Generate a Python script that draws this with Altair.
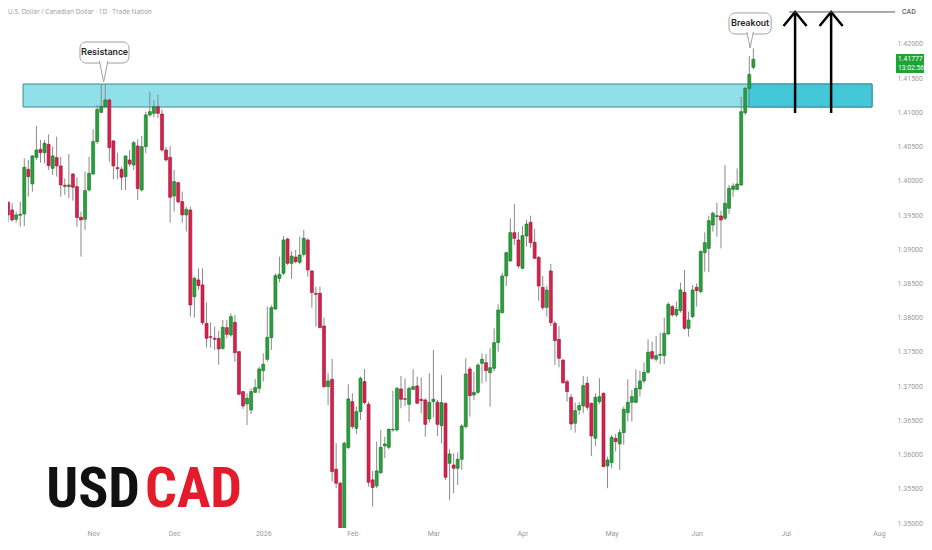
import altair as alt
import pandas as pd

# ---------------- data ----------------
opens = [1.39209,1.39356,1.39687,1.39575,1.39438,1.39497,1.39516,1.40169,1.39955,1.40344,
         1.40461,1.40412,1.40534,1.40183,1.40339,1.40218,1.39935,1.39916,1.40101,1.39916,
         1.39468,1.39438,1.39867,1.40101,1.40573,1.41002,1.41084,1.41182,1.40583,1.40193,
         1.40169,1.40062,1.40305,1.40232,1.40510,1.39867,1.40500,1.40963,1.40987,1.41084,
         1.40977,1.40451,1.40344,1.39779,1.39974,1.39697,1.39502,1.39574,1.38308,1.38552,
         1.38479,1.37918,1.37723,1.37699,1.37699,1.37553,1.37855,1.37748,1.37933,1.37504,
         1.36920,1.36740,1.36652,1.36910,1.36969,1.37227,1.37392,1.37709,1.38128,1.38576,
         1.38649,1.39150,1.38795,1.38887,1.38810,1.38926,1.39136,1.38683,1.38357,1.38357,
         1.37879,1.36993,1.37100,1.35785,1.35581,1.34923,1.36102,1.36774,1.36384,1.36628,
         1.37066,1.36735,1.35630,1.35542,1.35736,1.36126,1.36106,1.36360,1.36360,1.36959,
         1.36817,1.36735,1.36954,1.37003,1.36808,1.36798,1.36520,1.36774,1.36764,1.36423,
         1.36749,1.35873,1.35848,1.35800,1.35931,1.36408,1.37251,1.36871,1.36910,1.37334,
         1.37343,1.37197,1.37261,1.37636,1.38074,1.38610,1.38829,1.39243,1.39136,1.38722,
         1.39194,1.39394,1.39102,1.38882,1.38444,1.38152,1.38683,1.37918,1.37684,1.37382,
         1.37066,1.36837,1.36458,1.36652,1.36711,1.37042,1.36750,1.36238,1.36774,1.36896,
         1.35834,1.35883,1.36238,1.36156,1.36321,1.36613,1.36764,1.36764,1.36959,1.37076,
         1.37203,1.37505,1.37393,1.37451,1.37446,1.37763,1.38162,1.38040,1.38104,1.38372,
         1.37845,1.38016,1.38445,1.38381,1.38951,1.39014,1.39355,1.39477,1.39487,1.39453,
         1.39599,1.39876,1.39876,1.39940,1.40996,1.41352,1.41659]
highs = [1.39380,1.39867,1.39697,1.39672,1.39550,1.39697,1.40330,1.40305,1.40378,1.40802,
         1.40597,1.40597,1.40680,1.40500,1.40646,1.40354,1.40037,1.40393,1.40110,1.40052,
         1.39550,1.40135,1.40354,1.40753,1.41109,1.41401,1.41416,1.41206,1.40597,1.40412,
         1.40208,1.40370,1.40451,1.40583,1.40607,1.40656,1.41011,1.41304,1.41182,1.41255,
         1.41045,1.40500,1.40510,1.40159,1.39989,1.39843,1.39623,1.39622,1.38600,1.38722,
         1.38722,1.38225,1.37933,1.37870,1.37806,1.37967,1.37967,1.38064,1.38040,1.37514,
         1.36930,1.36896,1.36969,1.37105,1.37285,1.37480,1.38162,1.38186,1.38649,1.38892,
         1.39194,1.39170,1.38975,1.38990,1.39185,1.39282,1.39160,1.38698,1.38454,1.38454,
         1.38001,1.37188,1.37397,1.36165,1.35605,1.36190,1.37027,1.36896,1.36701,1.37139,
         1.37251,1.36774,1.35761,1.36190,1.36360,1.36262,1.36384,1.36934,1.36993,1.37149,
         1.37115,1.36993,1.37246,1.37139,1.37129,1.36822,1.37188,1.37529,1.36798,1.37163,
         1.36759,1.36077,1.36019,1.36029,1.36447,1.37407,1.37285,1.37212,1.37334,1.37480,
         1.37470,1.37553,1.37845,1.38196,1.38658,1.38965,1.39452,1.39662,1.39257,1.39340,
         1.39428,1.39491,1.39296,1.38902,1.38610,1.38464,1.38785,1.37957,1.37879,1.37392,
         1.37100,1.36886,1.36760,1.36764,1.37149,1.37139,1.36760,1.36896,1.37115,1.36906,
         1.35970,1.36287,1.36302,1.36370,1.36701,1.37100,1.36944,1.37246,1.37227,1.37344,
         1.37685,1.37651,1.37733,1.37782,1.38001,1.38225,1.38186,1.38235,1.38513,1.38698,
         1.38089,1.38479,1.38503,1.38990,1.39248,1.39487,1.39550,1.39682,1.39565,1.40232,
         1.39940,1.39964,1.40183,1.41230,1.41376,1.41824,1.41936]
lows = [1.39185,1.39331,1.39404,1.39404,1.39390,1.39331,1.39341,1.39769,1.39843,1.40305,
        1.40266,1.40257,1.40159,1.40086,1.40062,1.39769,1.39794,1.39745,1.39711,1.39331,
        1.38893,1.39283,1.39843,1.40086,1.40539,1.40987,1.41060,1.40281,1.40023,1.40023,
        1.39867,1.39867,1.40208,1.40159,1.39721,1.39843,1.40403,1.40938,1.40929,1.40914,
        1.40427,1.40281,1.39390,1.39550,1.39672,1.39390,1.39258,1.38016,1.38001,1.38405,
        1.37894,1.37563,1.37563,1.37529,1.37310,1.37529,1.37699,1.37723,1.37358,1.36871,
        1.36667,1.36433,1.36589,1.36896,1.36896,1.37066,1.37358,1.37529,1.38113,1.38517,
        1.38625,1.38771,1.38566,1.38795,1.38780,1.38892,1.38600,1.38147,1.37870,1.37845,
        1.36969,1.36725,1.35605,1.35508,1.34884,1.34875,1.36077,1.36375,1.36297,1.36506,
        1.36735,1.35532,1.35240,1.35508,1.35717,1.35946,1.36077,1.36335,1.36335,1.36676,
        1.36710,1.36481,1.36944,1.36740,1.36603,1.36262,1.36467,1.36545,1.36272,1.36165,
        1.35629,1.35337,1.35434,1.35556,1.35775,1.36384,1.36555,1.36798,1.36886,1.37042,
        1.37066,1.36701,1.37212,1.37504,1.38064,1.38464,1.38819,1.39063,1.38722,1.38707,
        1.39038,1.39024,1.38853,1.38249,1.38113,1.38016,1.37879,1.37309,1.37275,1.37032,
        1.36774,1.36360,1.36321,1.36579,1.36604,1.36652,1.35980,1.36126,1.36740,1.35815,
        1.35508,1.35800,1.36044,1.35776,1.36141,1.36482,1.36482,1.36750,1.36847,1.37042,
        1.37178,1.37383,1.37358,1.37324,1.37324,1.37748,1.38016,1.38006,1.38074,1.37821,
        1.37724,1.37991,1.38162,1.38357,1.38673,1.38664,1.39258,1.39185,1.39014,1.39428,
        1.39516,1.39769,1.39867,1.39925,1.40962,1.41328,1.41630]
closes = [1.39356,1.39682,1.39502,1.39429,1.39502,1.39512,1.40198,1.40062,1.40364,1.40451,
          1.40412,1.40549,1.40222,1.40364,1.40218,1.39940,1.39920,1.39940,1.39906,1.39463,
          1.39429,1.39857,1.40110,1.40573,1.41045,1.41089,1.41182,1.40485,1.40218,1.40178,
          1.40052,1.40364,1.40247,1.40558,1.39886,1.40500,1.40963,1.41011,1.41084,1.40987,
          1.40451,1.40305,1.39760,1.39989,1.39692,1.39502,1.39584,1.38186,1.38576,1.38469,
          1.37928,1.37699,1.37714,1.37685,1.37543,1.37860,1.37758,1.38016,1.37490,1.36881,
          1.36711,1.36823,1.36920,1.36979,1.37251,1.37319,1.37714,1.38147,1.38615,1.38634,
          1.39136,1.38795,1.38902,1.38819,1.38917,1.39160,1.38698,1.38366,1.38342,1.37855,
          1.36993,1.37076,1.35751,1.35581,1.34909,1.36165,1.36813,1.36409,1.36628,1.37115,
          1.36759,1.35595,1.35518,1.35761,1.36106,1.36155,1.36369,1.36369,1.36968,1.36808,
          1.36808,1.36968,1.36993,1.36749,1.36788,1.36442,1.36764,1.36808,1.36442,1.36759,
          1.35668,1.36009,1.35800,1.35931,1.36418,1.37178,1.36861,1.36910,1.37309,1.37392,
          1.37227,1.37270,1.37636,1.38113,1.38610,1.38951,1.39243,1.39160,1.38756,1.39199,
          1.39369,1.39097,1.38868,1.38464,1.38147,1.38405,1.37928,1.37665,1.37407,1.37051,
          1.36920,1.36447,1.36643,1.36716,1.37008,1.36691,1.36272,1.36837,1.36847,1.35824,
          1.35922,1.36253,1.36190,1.36321,1.36662,1.36764,1.36847,1.36969,1.37076,1.37203,
          1.37495,1.37407,1.37446,1.37466,1.37772,1.38196,1.38040,1.38123,1.38406,1.37845,
          1.37967,1.38406,1.38396,1.38966,1.39097,1.39418,1.39526,1.39491,1.39428,1.39672,
          1.39891,1.39925,1.39954,1.41011,1.41352,1.41556,1.41777]

price_ticks = [1.35, 1.355, 1.36, 1.365, 1.37, 1.375, 1.38, 1.385, 1.39,
               1.395, 1.40, 1.405, 1.41, 1.415, 1.42]

zone_x0 = [5.7, 184.9]
zone_x1 = [215.3, 215.3]
zone_top = [1.41415, 1.41415]
zone_bot = [1.41079, 1.41079]
zone_fill = ["#8fe0ea", "#45c7da"]

call_text = ["Resistance", "Breakout"]
call_x0 = [19.75, 180.0]
call_x1 = [31.85, 190.4]
call_top = [1.42029, 1.42453]
call_bot = [1.41722, 1.42146]
call_tx = [25.8, 185.2]
call_ty = [1.41876, 1.42300]
ptr_x = [25.6, 185.2]
ptr_y = [1.41598, 1.42058]
ptr_size = [441, 256]

arrow_x = [196.3, 205.2]
arrow_bottom = 1.40992
arrow_top = 1.42468
head_dx = 2.85
head_dy = 0.00205

cad_x = [194.8, 221.0]
cad_y = 1.42468

tag_time = "13:02:56"

# ---------------- frame ----------------
days = [d for d in pd.bdate_range("2025-10-01", "2026-08-31") if d != pd.Timestamp("2025-12-25")]
n = len(opens)
df = pd.DataFrame({
    "i": list(range(n)),
    "date": [d.strftime("%Y-%m-%d") for d in days[:n]],
    "open": opens, "high": highs, "low": lows, "close": closes,
})
df["dir"] = ["up" if c >= o else "down" for o, c in zip(opens, closes)]

month_idx, month_lab = [], []
prev = None
for k, d in enumerate(days):
    if d.month != prev:
        month_idx.append(k)
        month_lab.append(str(d.year) if d.month == 1 else d.strftime("%b"))
        prev = d.month
label_expr = " : ".join(f"datum.value == {k} ? '{lab}'" for k, lab in zip(month_idx, month_lab)) + " : ''"

xscale = alt.Scale(domain=[1.98, 218.5], nice=False, zero=False, padding=0)
yscale = alt.Scale(domain=[1.34927, 1.42526], nice=False, zero=False, padding=0)

xaxis = alt.Axis(values=month_idx, labelExpr=label_expr, title=None, grid=False, ticks=False,
                 domain=False, labelColor="#9a9a9a", labelFontSize=7, labelFont="Roboto",
                 labelPadding=1, labelFlush=False, labelOverlap=False)
yaxis = alt.Axis(orient="right", values=price_ticks, format=".5f", title=None, grid=False,
                 ticks=False, tickSize=0, domain=False, labelColor="#9a9a9a", labelFontSize=7,
                 labelFont="Roboto", labelAlign="left", labelPadding=12, labelFlush=False,
                 labelOverlap=False)


def X(f):
    return alt.X(f, scale=xscale, axis=xaxis)


def Y(f):
    return alt.Y(f, scale=yscale, axis=yaxis)


GREEN, GREEN_S = "#27a13a", "#1a6b27"
RED, RED_S = "#d8204e", "#9e1637"

zdf = pd.DataFrame({"x0": zone_x0, "x1": zone_x1, "top": zone_top, "bot": zone_bot, "fill": zone_fill})
zones = alt.Chart(zdf).mark_rect(stroke="#3b8995", strokeWidth=1).encode(
    x=X("x0:Q"), x2="x1:Q", y=Y("top:Q"), y2="bot:Q",
    fill=alt.Fill("fill:N", scale=None),
)

base = alt.Chart(df)
wicks = base.mark_rule(color="#8a8a8a", strokeWidth=1, clip=True).encode(
    x=X("i:Q"), y=Y("low:Q"), y2="high:Q",
)
bodies = base.mark_bar(size=3, strokeWidth=0.6, clip=True).encode(
    x=X("i:Q"), y=Y("open:Q"), y2="close:Q",
    fill=alt.Fill("dir:N", scale=alt.Scale(domain=["up", "down"], range=[GREEN, RED]), legend=None),
    stroke=alt.Stroke("dir:N", scale=alt.Scale(domain=["up", "down"], range=[GREEN_S, RED_S]), legend=None),
)

cdf = pd.DataFrame({"t": call_text, "x0": call_x0, "x1": call_x1, "top": call_top, "bot": call_bot,
                    "tx": call_tx, "ty": call_ty, "px": ptr_x, "py": ptr_y, "ps": ptr_size})
cbox = alt.Chart(cdf).mark_rect(fill="white", stroke="#a0a0a0", strokeWidth=1, cornerRadius=6).encode(
    x=X("x0:Q"), x2="x1:Q", y=Y("top:Q"), y2="bot:Q",
)
cptr = alt.Chart(cdf).mark_point(shape="M -0.4 -1 L 0 1 L 0.4 -1", filled=True, fill="white",
                                 stroke="#a0a0a0", strokeWidth=1, opacity=1).encode(
    x=X("px:Q"), y=Y("py:Q"), size=alt.Size("ps:Q", scale=None, legend=None),
)
ctext = alt.Chart(cdf).mark_text(font="Roboto", fontSize=9.5, fontWeight=500, color="#1e1e1e",
                                 align="center", baseline="middle").encode(
    x=X("tx:Q"), y=Y("ty:Q"), text="t:N",
)

adf = pd.DataFrame({"x": arrow_x, "y0": [arrow_bottom] * 2, "y1": [arrow_top] * 2})
shafts = alt.Chart(adf).mark_rule(color="black", strokeWidth=2.5).encode(
    x=X("x:Q"), y=Y("y0:Q"), y2="y1:Q",
)
hrows = []
for a, ax in enumerate(arrow_x):
    hrows += [
        {"a": a, "o": 0, "x": ax - head_dx, "y": arrow_top - head_dy},
        {"a": a, "o": 1, "x": ax, "y": arrow_top},
        {"a": a, "o": 2, "x": ax + head_dx, "y": arrow_top - head_dy},
    ]
heads = alt.Chart(pd.DataFrame(hrows)).mark_line(color="black", strokeWidth=2.5, strokeJoin="miter").encode(
    x=X("x:Q"), y=Y("y:Q"), detail="a:N", order="o:Q",
)

ldf = pd.DataFrame({"x0": [cad_x[0]], "x1": [cad_x[1]], "y": [cad_y], "lx": [cad_x[1] + 1.7], "t": ["CAD"]})
cadline = alt.Chart(ldf).mark_rule(color="#555555", strokeWidth=1, clip=False).encode(
    x=X("x0:Q"), x2="x1:Q", y=Y("y:Q"),
)
cadtext = alt.Chart(ldf).mark_text(font="Roboto", fontSize=7, color="#333333", align="left",
                                   baseline="middle", clip=False).encode(
    x=X("lx:Q"), y=Y("y:Q"), text="t:N",
)

last_close = closes[-1]
tdf = pd.DataFrame({"x0": [221.2], "x1": [230.0], "top": [1.41854], "bot": [1.41576],
                    "tx": [221.7], "l1": [f"{last_close:.5f}"], "l2": [tag_time],
                    "y1": [1.41781], "y2": [1.41649]})
tagbox = alt.Chart(tdf).mark_rect(fill="#1fa336", clip=False).encode(
    x=X("x0:Q"), x2="x1:Q", y=Y("top:Q"), y2="bot:Q",
)
tagt1 = alt.Chart(tdf).mark_text(font="Roboto", fontSize=6.8, color="white", align="left",
                                 baseline="middle").encode(x=X("tx:Q"), y=Y("y1:Q"), text="l1:N")
tagt2 = alt.Chart(tdf).mark_text(font="Roboto", fontSize=6.8, color="white", align="left",
                                 baseline="middle").encode(x=X("tx:Q"), y=Y("y2:Q"), text="l2:N")

title = alt.Chart(pd.DataFrame({"t": ["U.S. Dollar / Canadian Dollar \u00b7 1D \u00b7 Trade Nation"]})).mark_text(
    font="Open Sans", fontSize=6.5, color="#9a9a9a", align="left", baseline="top"
).encode(x=alt.value(0), y=alt.value(1), text="t:N")

logo_font = "Roboto Condensed"
usd = alt.Chart(pd.DataFrame({"t": ["USD"]})).mark_text(
    font=logo_font, fontSize=56, fontWeight="bold", color="#111111", align="right", baseline="alphabetic"
).encode(x=alt.value(132), y=alt.value(499), text="t:N")
cad = alt.Chart(pd.DataFrame({"t": ["CAD"]})).mark_text(
    font=logo_font, fontSize=56, fontWeight="bold", color="#e41b2b", align="left", baseline="alphabetic"
).encode(x=alt.value(137), y=alt.value(499), text="t:N")

chart = alt.layer(
    zones, wicks, bodies, cbox, cptr, ctext, shafts, heads, cadline, cadtext,
    tagbox, tagt1, tagt2, title, usd, cad
).properties(
    width=877, height=520,
    autosize=alt.AutoSizeParams(type="none"),
    padding={"left": 0, "top": 0, "right": 39, "bottom": 10},
    background="white",
).configure_view(stroke=None)

chart.save("out.html", embed_options={"renderer": "svg", "actions": False})
